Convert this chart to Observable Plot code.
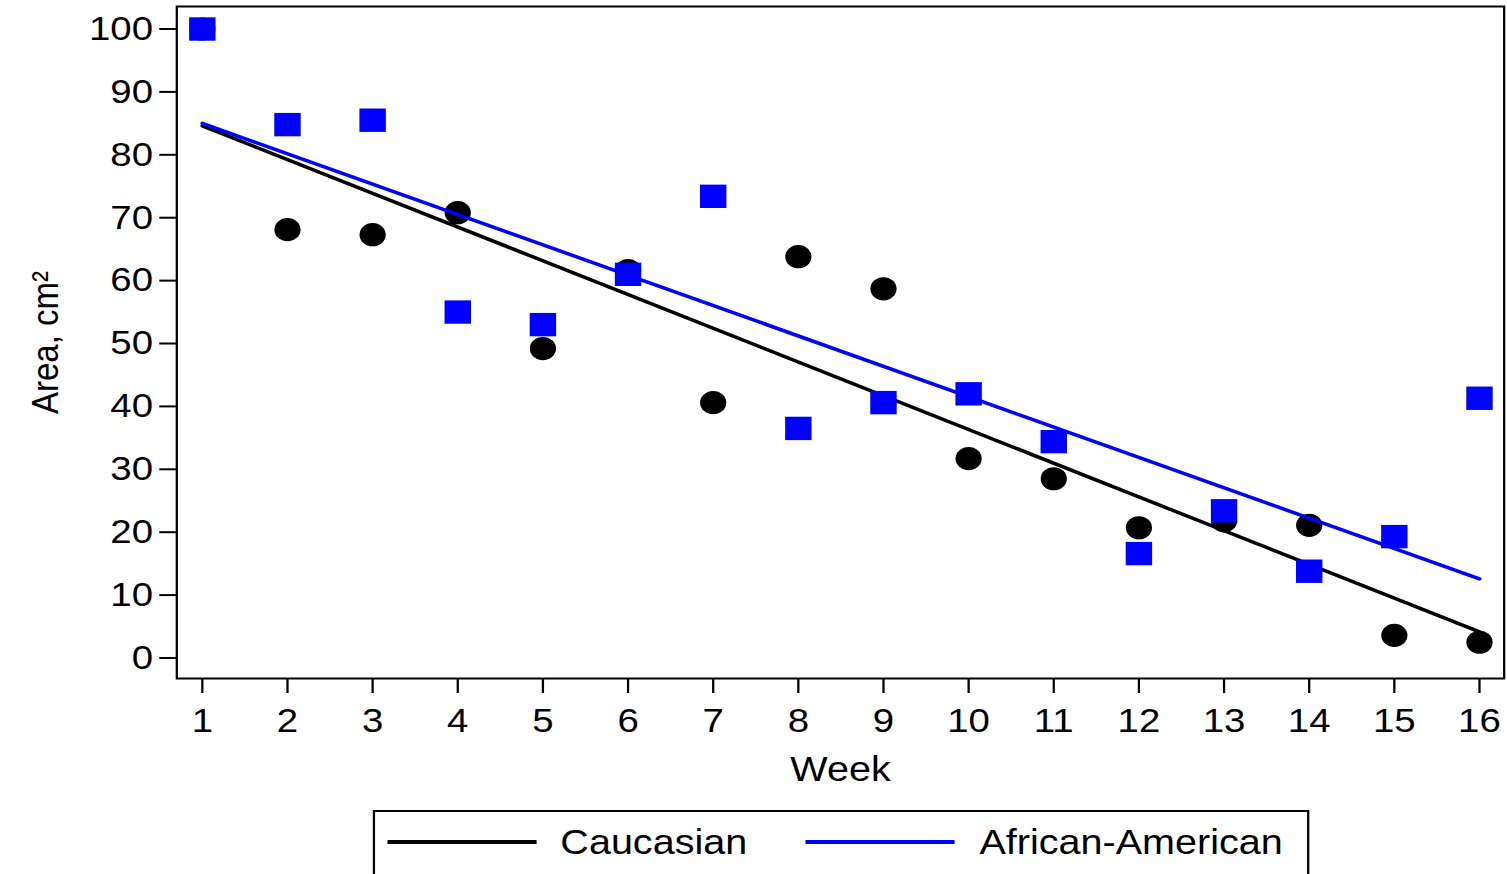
<!DOCTYPE html>
<html>
<head>
<meta charset="utf-8">
<script src="https://cdn.jsdelivr.net/npm/d3@7"></script>
<script src="https://cdn.jsdelivr.net/npm/@observablehq/plot@0.6"></script>
<style>
  html, body { margin: 0; padding: 0; background: white; overflow: hidden; }
  body { width: 1507px; height: 874px; font-family: "Liberation Sans", Arial, sans-serif; }
  #chart svg { display: block; }
  #legend { position: relative; height: 64px; margin-top: 10px; transform: scaleX(1.1297); transform-origin: 0 0; }
  #legend .box { position: absolute; left: 330px; top: 0; width: 829px; height: 90px; border: 2px solid black; box-sizing: border-box; }
  #legend .sw { position: absolute; top: 28px; width: 132px; height: 4px; }
  #legend .lab { position: absolute; top: 12px; font-size: 35px; line-height: 35px; white-space: nowrap; color: black; }
</style>
</head>
<body>
<div id="chart"></div>
<div id="legend"><div class="box"></div></div>
<script>
// ---- data ----
const weeks = [1, 2, 3, 4, 5, 6, 7, 8, 9, 10, 11, 12, 13, 14, 15, 16];
const caucasian = [100, 68.1, 67.3, 70.8, 49.2, 61.6, 40.6, 63.8, 58.7, 31.7, 28.5, 20.7, 21.8, 21.1, 3.6, 2.5];
const africanAmerican = [100, 84.8, 85.5, 55.0, 53.0, 61.0, 73.4, 36.5, 40.6, 42.0, 34.4, 16.6, 23.4, 13.8, 19.3, 41.3];
const seriesNames = ["Caucasian", "African-American"];
const seriesColors = ["black", "#0000ff"];
const xTicks = weeks;
const yTicks = [0, 10, 20, 30, 40, 50, 60, 70, 80, 90, 100];
const xLabel = "Week";
const yLabel = "Area, cm\u00B2";

const cData = weeks.map((w, i) => ({week: w, area: caucasian[i]}));
const aData = weeks.map((w, i) => ({week: w, area: africanAmerican[i]}));

const W0 = 1334, H = 800;
const plot = Plot.plot({
  width: W0,
  height: H,
  marginLeft: 156,
  marginRight: 3,
  marginTop: 6,
  marginBottom: 122,
  style: {fontFamily: "'Liberation Sans', Arial, sans-serif", fontSize: "33px", color: "black", background: "white", overflow: "visible"},
  x: {domain: [0.7, 16.29], label: null},
  y: {domain: [-3.26, 103.58], label: null},
  marks: [
    Plot.axisX({ticks: xTicks, tickFormat: d => String(d), tickSize: 15, tickPadding: 14, fontSize: 34, strokeWidth: 2, label: null}),
    Plot.axisY({ticks: yTicks, tickFormat: d => String(d), tickSize: 15, tickPadding: 6, fontSize: 34, strokeWidth: 2, label: null}),
    Plot.linearRegressionY(cData, {x: "week", y: "area", stroke: seriesColors[0], strokeWidth: 3.5, ci: 0}),
    Plot.dot(cData, {x: "week", y: "area", r: 11.6, fill: seriesColors[0], symbol: "circle"}),
    Plot.linearRegressionY(aData, {x: "week", y: "area", stroke: seriesColors[1], strokeWidth: 3.5, ci: 0}),
    Plot.dot(aData, {x: "week", y: "area", r: 13.2, fill: seriesColors[1], symbol: "square"}),
    Plot.frame({stroke: "black", strokeWidth: 2}),
    Plot.text([xLabel], {frameAnchor: "bottom", dy: 102, fontSize: 35, fill: "black"}),
    Plot.text([yLabel], {frameAnchor: "left", dx: -116, rotate: -90, textAnchor: "middle", fontSize: 33, fill: "black"})
  ]
});
plot.setAttribute("width", 1507);
plot.setAttribute("viewBox", `0 0 ${W0} ${H}`);
plot.setAttribute("preserveAspectRatio", "none");
plot.style.width = "1507px";
plot.style.maxWidth = "none";
plot.style.height = H + "px";
document.getElementById("chart").appendChild(plot);

// ---- legend ----
const box = document.querySelector("#legend .box");
const swLeft = [11, 381];
const labLeft = [164, 535];
seriesNames.forEach((name, i) => {
  const sw = document.createElement("div");
  sw.className = "sw";
  sw.style.left = swLeft[i] + "px";
  sw.style.background = seriesColors[i];
  box.appendChild(sw);
  const lab = document.createElement("span");
  lab.className = "lab";
  lab.style.left = labLeft[i] + "px";
  lab.textContent = name;
  box.appendChild(lab);
});
</script>
</body>
</html>
